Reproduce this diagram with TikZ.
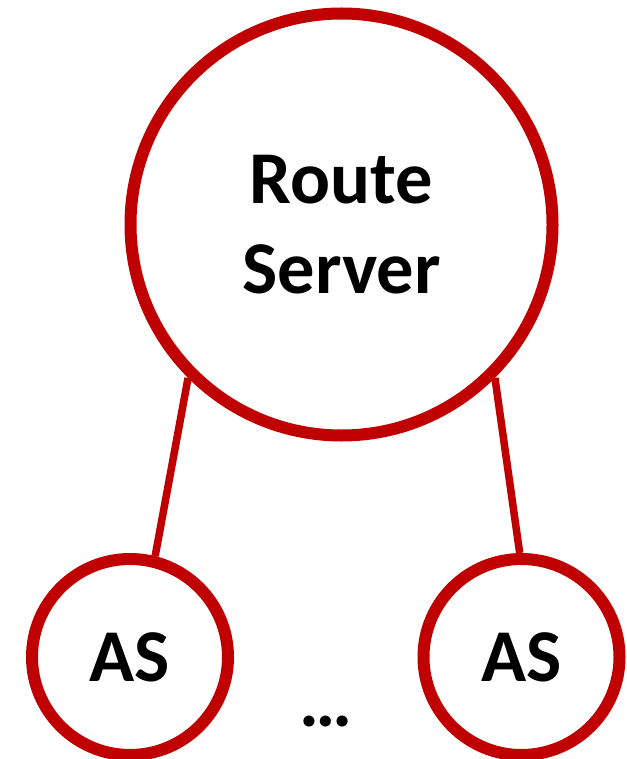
\documentclass[tikz,border=0pt]{standalone}
\usepackage{fontspec}
\setmainfont{Carlito}
\definecolor{rsred}{RGB}{192,0,0}
\begin{document}
\begin{tikzpicture}[x=1pt,y=-1pt,
  bigcirc/.style={circle,draw=rsred,line width=12pt,fill=white,minimum size=422pt,inner sep=0pt,
    font=\fontsize{74.5pt}{90pt}\selectfont\bfseries,align=center},
  ascirc/.style={circle,draw=rsred,line width=12pt,fill=white,minimum size=196pt,inner sep=0pt,
    font=\fontsize{74.5pt}{90pt}\selectfont\bfseries},
  link/.style={draw=rsred,line width=7.5pt}]
\useasboundingbox (0,0) rectangle (626,759);
\node[bigcirc] (rs) at (341.5,224.5) {Route\\Server};
\node[ascirc] (as1) at (130,657) {AS};
\node[ascirc] (as2) at (521.5,657) {AS};
\node[font=\fontsize{74.5pt}{90pt}\selectfont\bfseries,anchor=base,inner sep=0pt] (dots) at (326,726) {…};
\draw[link] (rs.225) -- (as1.76);
\draw[link] (rs.-45) -- (as2.91.5);
\end{tikzpicture}
\end{document}
